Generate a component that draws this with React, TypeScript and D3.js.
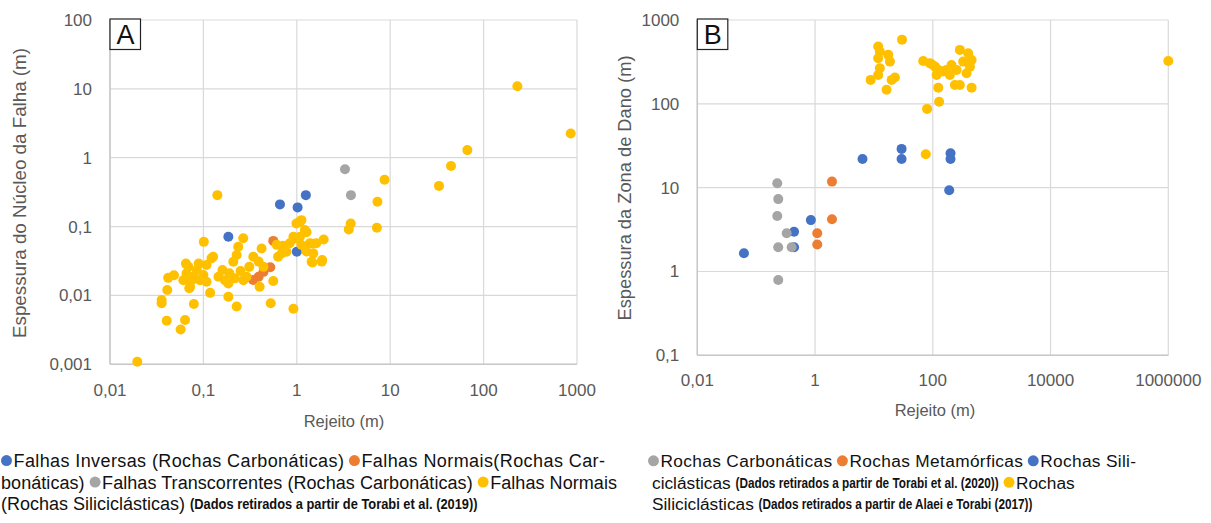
import React, { useLayoutEffect, useRef, useState } from "react";
import * as d3 from "d3";

// ---------- Panel A data (Rejeito m, Espessura do Núcleo m) ----------
const aTicksX = [0.01, 0.1, 1, 10, 100, 1000];
const aTicksXLabels = ["0,01", "0,1", "1", "10", "100", "1000"];
const aTicksY = [0.001, 0.01, 0.1, 1, 10, 100];
const aTicksYLabels = ["0,001", "0,01", "0,1", "1", "10", "100"];

const aInversas: [number, number][] = [
  [0.185, 0.071], [0.66, 0.21], [1.02, 0.19], [1.25, 0.286], [1.0, 0.043],
];
const aNormaisCarb: [number, number][] = [
  [0.56, 0.062], [0.39, 0.0187], [0.44, 0.022], [0.52, 0.0256], [0.34, 0.0168],
];
const aTranscorrentes: [number, number][] = [
  [3.28, 0.68], [3.8, 0.286],
];
const aNormaisSilic: [number, number][] = [
  [0.0196, 0.00109], [0.141, 0.286], [0.0405, 0.0043], [0.057, 0.0032], [0.0636, 0.0044],
  [0.0357, 0.0077], [0.0357, 0.0086], [0.041, 0.012], [0.042, 0.018], [0.0484, 0.0196],
  [0.079, 0.0075], [0.0706, 0.0127], [0.065, 0.029], [0.101, 0.06], [0.118, 0.0109],
  [0.085, 0.0234], [0.075, 0.0166], [0.092, 0.0166], [0.108, 0.0276], [0.122, 0.0345],
  [0.1, 0.0198], [0.078, 0.0187], [0.066, 0.021], [0.089, 0.029], [0.072, 0.0134],
  [0.108, 0.0158], [0.185, 0.0096], [0.227, 0.0069], [0.267, 0.0675], [0.236, 0.051],
  [0.227, 0.0386], [0.209, 0.0308], [0.145, 0.0187], [0.17, 0.0166], [0.19, 0.021],
  [0.16, 0.0234], [0.25, 0.0226], [0.29, 0.0187], [0.268, 0.0166], [0.185, 0.0149],
  [0.217, 0.0177], [0.31, 0.026], [0.342, 0.0365], [0.39, 0.031], [0.42, 0.048],
  [0.44, 0.026], [0.4, 0.0134], [0.526, 0.0077], [0.56, 0.0162], [0.63, 0.0365],
  [0.61, 0.0543], [0.71, 0.0525], [0.84, 0.0572], [0.92, 0.0064], [0.99, 0.111],
  [1.12, 0.124], [1.22, 0.089], [0.92, 0.071], [1.08, 0.071], [1.38, 0.0572],
  [1.27, 0.0434], [1.5, 0.0408], [1.44, 0.0308], [1.85, 0.031], [1.94, 0.065],
  [1.62, 0.0572], [0.775, 0.043], [0.69, 0.041], [1.12, 0.054], [0.061, 0.0166],
  [0.127, 0.0365], [0.069, 0.026],
  [230, 10.9], [857, 2.25], [67, 1.29], [44.8, 0.76], [33.3, 0.39], [8.7, 0.48],
  [7.3, 0.23], [3.78, 0.111], [3.6, 0.091], [7.2, 0.096], [1.47, 0.03], [1.87, 0.0327],
  [1.08, 0.117], [1.27, 0.083], [0.97, 0.067], [1.5, 0.0565],
];

// ---------- Panel B data (Rejeito m, Espessura da Zona de Dano m) ----------
const bTicksX = [0.01, 1, 100, 10000, 1000000];
const bTicksXLabels = ["0,01", "1", "100", "10000", "1000000"];
const bTicksY = [0.1, 1, 10, 100, 1000];
const bTicksYLabels = ["0,1", "1", "10", "100", "1000"];

const bCarbonaticas: [number, number][] = [
  [0.228, 11.3], [0.237, 7.3], [0.228, 4.6], [0.33, 2.86], [0.237, 1.95], [0.4, 1.95], [0.237, 0.79],
];
const bMetamorficas: [number, number][] = [
  [1.94, 11.8], [1.94, 4.2], [1.09, 2.86], [1.09, 2.1],
];
const bSiliciclasticasT: [number, number][] = [
  [0.062, 1.65], [0.44, 2.98], [0.44, 1.95], [0.85, 4.1], [6.4, 22], [29.5, 29],
  [29.5, 22], [200, 25.7], [200, 22], [190, 9.3],
];
const bSiliciclasticasA: [number, number][] = [
  [76, 25], [1000000, 325], [30, 583], [11.8, 482], [12.6, 420], [17.5, 384], [11.8, 350],
  [18.7, 319], [12.6, 266], [11.8, 221], [8.8, 193], [22.7, 206], [20, 193], [16.4, 147],
  [68.7, 325], [95.5, 297], [124, 254], [116, 221], [124, 156], [128, 106], [80, 87],
  [89, 305], [171, 254], [195, 221], [288, 440], [399, 402], [456, 334], [427, 278],
  [375, 232], [253, 254], [237, 168], [288, 168], [456, 156], [150, 243], [109, 278],
  [328, 319], [208, 291],
];

const BLUE = "#4472C4";
const ORANGE = "#ED7D31";
const GRAY = "#A5A5A5";
const YELLOW = "#FFC000";

const FONT = "'Liberation Sans', Arial, sans-serif";
const TICK_COLOR = "#595959";
const GRID = "#d9d9d9";

type Panel = {
  xs: d3.ScaleLogarithmic<number, number>;
  ys: d3.ScaleLogarithmic<number, number>;
  tx: number[];
  txl: string[];
  ty: number[];
  tyl: string[];
  series: { data: [number, number][]; color: string }[];
  letter: string;
  xTitle: { x: number; y: number };
  yTitle: { x: number; y: number; text: string; len: number };
  tickXY: number;
};

function PanelView({ p }: { p: Panel }) {
  const [x0, x1] = p.xs.range();
  const [y0, y1] = p.ys.range();
  return (
    <g>
      {p.ty.map((t, i) => (
        <line key={"gy" + i} x1={x0} x2={x1} y1={p.ys(t)} y2={p.ys(t)} stroke={GRID} strokeWidth={1.2} />
      ))}
      {p.tx.map((t, i) => (
        <line key={"gx" + i} x1={p.xs(t)} x2={p.xs(t)} y1={y0} y2={y1} stroke={GRID} strokeWidth={1.2} />
      ))}
      <line x1={x0} x2={x1} y1={y0} y2={y0} stroke="#c8c8c8" strokeWidth={1.5} />
      <line x1={x0} x2={x0} y1={y0} y2={y1} stroke="#c8c8c8" strokeWidth={1.5} />
      {p.series.map((s, si) => (
        <g key={"s" + si}>
          {s.data.map((d, i) => (
            <circle key={i} cx={p.xs(d[0])} cy={p.ys(d[1])} r={5} fill={s.color} />
          ))}
        </g>
      ))}
      {p.tx.map((t, i) => (
        <text key={"tx" + i} x={p.xs(t)} y={p.tickXY} textAnchor="middle" fontSize={17} fill={TICK_COLOR} fontFamily={FONT}>
          {p.txl[i]}
        </text>
      ))}
      {p.ty.map((t, i) => (
        <text key={"ty" + i} x={x0 - 18} y={p.ys(t) + 6} textAnchor="end" fontSize={17} fill={TICK_COLOR} fontFamily={FONT}>
          {p.tyl[i]}
        </text>
      ))}
      <text x={p.xTitle.x} y={p.xTitle.y} textAnchor="middle" fontSize={16.5} fill={TICK_COLOR} fontFamily={FONT}>
        Rejeito (m)
      </text>
      <text
        transform={`translate(${p.yTitle.x},${p.yTitle.y}) rotate(-90)`}
        textAnchor="middle"
        fontSize={17.5}
        fill={TICK_COLOR}
        fontFamily={FONT}
        textLength={p.yTitle.len}
        lengthAdjust="spacingAndGlyphs"
      >
        {p.yTitle.text}
      </text>
      <rect x={x0} y={y1 - 1} width={30.5} height={30.5} fill="white" stroke="#222" strokeWidth={1.2} />
      <text x={x0 + 15.5} y={y1 + 24} textAnchor="middle" fontSize={27} fill="#111" fontFamily={FONT}>
        {p.letter}
      </text>
    </g>
  );
}

// ---------- Legend (flowed text with coloured dots, justified lines) ----------
type Item = { kind: "dot"; color: string } | { kind: "text"; s: string; bold?: boolean };
type LineSpec = { x: number; y: number; size: number; boldSize: number; items: Item[]; justifyTo?: number };

const SQUEEZE = 0.84;
const DOT_R = 5.5;

function Legend({ lines }: { lines: LineSpec[] }) {
  const refs = useRef<(SVGTextElement | null)[]>([]);
  const [widths, setWidths] = useState<number[] | null>(null);
  const texts: { li: number; ii: number; s: string; bold: boolean; size: number }[] = [];
  lines.forEach((l, li) =>
    l.items.forEach((it, ii) => {
      if (it.kind === "text") texts.push({ li, ii, s: it.s, bold: !!it.bold, size: it.bold ? l.boldSize : l.size });
    })
  );
  useLayoutEffect(() => {
    setWidths(texts.map((_, k) => (refs.current[k] ? refs.current[k]!.getComputedTextLength() : 0)));
  }, []);
  if (!widths) {
    return (
      <g>
        {texts.map((t, k) => (
          <text key={k} ref={(el) => { refs.current[k] = el; }} x={0} y={-200} fontSize={t.size}
            fontWeight={t.bold ? "bold" : "normal"} fontFamily={FONT}>{t.s}</text>
        ))}
      </g>
    );
  }
  const out: JSX.Element[] = [];
  let k = 0;
  lines.forEach((l, li) => {
    const sp = l.size * 0.278;
    const ws: number[] = [];
    l.items.forEach((it) => {
      if (it.kind === "text") {
        const w = widths[k++];
        ws.push(it.bold ? w * SQUEEZE : w);
      } else ws.push(DOT_R * 2);
    });
    const gaps: number[] = l.items.map((it, i) => {
      if (i === 0) return 0;
      if (it.kind === "dot") return sp;
      if (l.items[i - 1].kind === "dot") return 1.5;
      return sp;
    });
    const regular = l.items.reduce((a, it, i) => a + (it.kind === "text" && !it.bold ? ws[i] : 0), 0);
    const total = ws.reduce((a, b) => a + b, 0) + gaps.reduce((a, b) => a + b, 0);
    const kf = l.justifyTo ? (l.justifyTo - l.x - (total - regular)) / regular : 1;
    let x = l.x;
    l.items.forEach((it, i) => {
      x += gaps[i];
      if (it.kind === "dot") {
        out.push(<circle key={`d${li}-${i}`} cx={x + DOT_R} cy={l.y - l.size * 0.36} r={DOT_R} fill={it.color} />);
        x += DOT_R * 2;
      } else if (it.bold) {
        out.push(
          <text key={`t${li}-${i}`} x={x} y={l.y - 0.5} fontSize={l.boldSize} fontWeight="bold" fontFamily={FONT} fill="#111"
            textLength={ws[i]} lengthAdjust="spacingAndGlyphs">{it.s}</text>
        );
        x += ws[i];
      } else {
        const w = ws[i] * kf;
        out.push(
          <text key={`t${li}-${i}`} x={x} y={l.y} fontSize={l.size} fontFamily={FONT} fill="#111"
            textLength={w} lengthAdjust="spacing">{it.s}</text>
        );
        x += w;
      }
    });
  });
  return <g>{out}</g>;
}

const legendLines: LineSpec[] = [
  {
    x: 1, y: 467, size: 18, boldSize: 15, justifyTo: 605,
    items: [
      { kind: "dot", color: BLUE }, { kind: "text", s: "Falhas Inversas (Rochas Carbonáticas)" },
      { kind: "dot", color: ORANGE }, { kind: "text", s: "Falhas Normais(Rochas Car-" },
    ],
  },
  {
    x: 1, y: 488.5, size: 18, boldSize: 15, justifyTo: 617,
    items: [
      { kind: "text", s: "bonáticas)" }, { kind: "dot", color: GRAY },
      { kind: "text", s: "Falhas Transcorrentes (Rochas Carbonáticas)" },
      { kind: "dot", color: YELLOW }, { kind: "text", s: "Falhas Normais" },
    ],
  },
  {
    x: 1, y: 509.5, size: 18, boldSize: 15.3,
    items: [
      { kind: "text", s: "(Rochas Siliciclásticas)" },
      { kind: "text", s: "(Dados retirados a partir de Torabi et al. (2019))", bold: true },
    ],
  },
  {
    x: 648, y: 467, size: 17.3, boldSize: 14, justifyTo: 1136,
    items: [
      { kind: "dot", color: GRAY }, { kind: "text", s: "Rochas Carbonáticas" },
      { kind: "dot", color: ORANGE }, { kind: "text", s: "Rochas Metamórficas" },
      { kind: "dot", color: BLUE }, { kind: "text", s: "Rochas Sili-" },
    ],
  },
  {
    x: 652, y: 488.5, size: 17.3, boldSize: 14,
    items: [
      { kind: "text", s: "ciclásticas" },
      { kind: "text", s: "(Dados retirados a partir de Torabi et al. (2020))", bold: true },
      { kind: "dot", color: YELLOW }, { kind: "text", s: "Rochas" },
    ],
  },
  {
    x: 652, y: 509.5, size: 17.3, boldSize: 14,
    items: [
      { kind: "text", s: "Siliciclásticas" },
      { kind: "text", s: "(Dados retirados a partir de Alaei e Torabi (2017))", bold: true },
    ],
  },
];

export default function App() {
  const pA: Panel = {
    xs: d3.scaleLog().domain([0.01, 1000]).range([110, 577]),
    ys: d3.scaleLog().domain([0.001, 100]).range([364.3, 20]),
    tx: aTicksX, txl: aTicksXLabels, ty: aTicksY, tyl: aTicksYLabels,
    series: [
      { data: aInversas, color: BLUE },
      { data: aNormaisCarb, color: ORANGE },
      { data: aTranscorrentes, color: GRAY },
      { data: aNormaisSilic, color: YELLOW },
    ],
    letter: "A",
    tickXY: 396,
    xTitle: { x: 344, y: 427 },
    yTitle: { x: 26, y: 193, text: "Espessura do Núcleo da Falha (m)", len: 290 },
  };
  const pB: Panel = {
    xs: d3.scaleLog().domain([0.01, 1000000]).range([697.3, 1168.3]),
    ys: d3.scaleLog().domain([0.1, 1000]).range([355.3, 20]),
    tx: bTicksX, txl: bTicksXLabels, ty: bTicksY, tyl: bTicksYLabels,
    series: [
      { data: bSiliciclasticasT, color: BLUE },
      { data: bCarbonaticas, color: GRAY },
      { data: bMetamorficas, color: ORANGE },
      { data: bSiliciclasticasA, color: YELLOW },
    ],
    letter: "B",
    tickXY: 386,
    xTitle: { x: 935, y: 416 },
    yTitle: { x: 631, y: 188, text: "Espessura da Zona de Dano (m)", len: 265 },
  };

  return (
    <svg width={1211} height={523} style={{ position: "absolute", left: 0, top: 0, background: "white" }}>
      <rect width={1211} height={523} fill="white" />
      <PanelView p={pA} />
      <PanelView p={pB} />
      <Legend lines={legendLines} />
    </svg>
  );
}
